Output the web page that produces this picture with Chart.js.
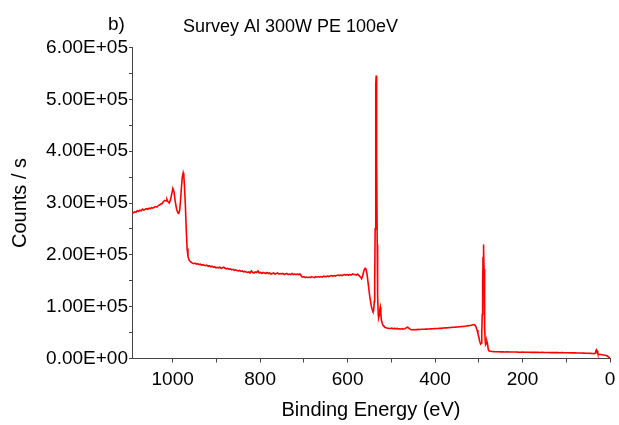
<!DOCTYPE html>
<html>
<head>
<meta charset="utf-8">
<script src="https://cdn.jsdelivr.net/npm/chart.js@4.4.1/dist/chart.umd.min.js"></script>
<style>
html,body{margin:0;padding:0;background:#fff;}
canvas{display:block;}
</style>
</head>
<body>
<canvas id="c" width="619" height="425"></canvas>
<script>
// Binding energy (eV) and intensity (thousand counts / s)
const bindingEnergy = [
1093,1090,1087,1084,1081,1078,1075,1072,1069,1066,1063,1060,1057,1054,1051,1048,1045,1042,1039,1036,
1033,1030,1027,1024,1021,1018,1015,1013,1011,1008,1005,1002,999.5,997,994,991,988,986,984,982,
980,978,976,974.5,973,971,969,967,965,963,961,958,955,952,949,946,943,940,937,934,
931,928,925,922,919,916,913,910,907,904,901,898,895,892,889,886,883,880,877,874,
871,868,865,862,859,856,853,850,847,844,841,838,835,832,829,826,823,820,817,814,
811,808,805,802,799,796,793,790,787,784,781,778,775,772,769,766,763,760,757,754,
751,748,745,742,739,736,733,730,727,724,721,718,715,712,709,707,705,703,700,697,
694,691,688,685,682,679,676,673,670,667,664,661,658,655,652,649,646,643,640,637,
634,631,628,625,622,619,616,613,610,607,604,601,598,595,592,589,586,583,580,577,
574,572,570,568,566,564,562,560,558,556,554,552,550,548,546,544,542,540.5,539,538,
537,536,535.2,534.6,534,533.2,532.3,531.3,530,529,527.5,526.3,525.3,524,523,521,519,517,514,511,508,505,
502,499,496,493,490,487,484,481,478,475,472,469,467,465,463,461,458,455,452,449,
446,443,440,437,434,431,428,425,422,419,416,413,410,407,404,401,398,395,392,389,
386,383,380,377,374,371,368,365,362,359,356,353,350,347,344,341,338,335,332,329,
326,323,320,317,314,312,310,308,306,304,302,300,298,296,294.5,293.2,292.2,291.2,290.3,289.4,288.7,288,
287.2,286.3,285.3,284.4,283,281.5,280,278.5,276.5,273,270,265,260,255,250,245,240,235,230,225,
220,215,210,205,200,195,190,185,180,175,170,165,160,155,150,145,140,135,130,125,
120,115,110,105,100,95,90,85,80,75,70,65,60,55,50,45,40,36,34,32.5,
31,29.5,28,26.5,24,21,18,15,12,9,6,3,0
];
const countsK = [
282,281,283,282,285,284,286,285,288,286,288,289,288,290,289,291,290,292,293,292,
295,296,298,299,303,305,304,307,303,300,306,318,328,322,302,288,281,280,286,305,
330,350,358,352,332,296,250,212,197,191,188,186,184,183,184,182,183,181,182,180,
181,180,179,180,178,179,177,178,176,177,175,176,175,176,174,175,176,174,173,174,
172,173,171,172,170,171,170,169,170,168,169,167,168,167,166,167,165,169,166,165,
167,166,169,165,166,164,166,165,164,166,164,165,163,164,165,163,164,165,163,164,
163,164,162,163,164,162,163,162,164,162,163,162,163,162,163,161,158,157,158,156,
157,156,157,156,158,157,156,158,157,158,157,158,157,159,158,158,159,158,159,160,
159,160,159,160,161,160,161,160,161,162,161,162,161,162,161,163,162,162,161,163,
160,158,157,154,158,165,171,174,172,165,152,138,124,112,102,95,91,92,110,150,
250,420,530,546,510,380,220,120,85,79,84,95,99,88,76,68,64,62,60,59,58.5,58,
58,58.5,57.5,58,57.5,58,57,57.5,57,57.5,57,57.5,58.5,60,60.5,59,57,55.5,55.5,55.8,
55.5,56,55.8,56.2,56,56.3,56.5,56.4,56.7,56.6,57,56.8,57.2,57.4,57.3,57.7,57.8,58,58.1,58.3,
58.2,58.6,58.8,59,59.1,59.4,59.6,59.8,60,60.2,60.4,60.6,60.8,61,61.3,61.5,61.8,62,62.3,62.6,
63,63.4,63.8,64.3,65,65.6,65.2,63.5,60,55,48,42,33,28,30,48,85,145,195,220,212,172,
112,60,33,27,29,33,28,18,14.5,14,13.5,13.2,13,12.9,12.8,12.9,12.6,12.7,12.5,12.6,
12.4,12.5,12.3,12.2,12.3,12.1,12,12.1,11.9,12,11.8,11.9,11.7,11.8,11.6,11.5,11.6,11.4,11.5,11.3,
11.4,11.2,11.3,11.1,11,11.1,10.9,10.8,10.9,10.7,10.6,10.5,10.4,10.2,10,9.8,9.6,9.4,10.5,14,
17,15,10,8,7.8,7.6,7.2,6.8,6.4,5.9,4.8,2.8,0.5
];
const xTickValues = [0, 100, 200, 300, 400, 500, 600, 700, 800, 900, 1000];
const xTickLabels = [0, 200, 400, 600, 800, 1000];
const yTickValues = [0, 50000, 100000, 150000, 200000, 250000, 300000, 350000, 400000, 450000, 500000, 550000, 600000];
const yTickLabels = [0, 100000, 200000, 300000, 400000, 500000, 600000];
const titleText = 'Survey Al 300W PE 100eV';
const panelText = 'b)';
const xTitle = 'Binding Energy (eV)';
const yTitle = 'Counts / s';

const points = bindingEnergy.map((e, i) => ({x: e, y: countsK[i] * 1000}));

function sci(v) {
  if (v === 0) return '0.00E+00';
  const e = Math.floor(Math.log10(Math.abs(v)) + 1e-9);
  const m = v / Math.pow(10, e);
  return m.toFixed(2) + 'E' + (e < 0 ? '-' : '+') + String(Math.abs(e)).padStart(2, '0');
}

const FONT = '"Liberation Sans", Arial, sans-serif';
const AXIS = '#444';

const titlePlugin = {
  id: 'titles',
  afterDraw(chart) {
    const ctx = chart.ctx;
    ctx.save();
    ctx.fillStyle = '#000';
    ctx.textBaseline = 'alphabetic';
    ctx.textAlign = 'left';
    ctx.font = '19px ' + FONT;
    ctx.fillText(panelText, 108, 30);
    ctx.font = '18px ' + FONT;
    ctx.fillText(titleText, 183, 32);
    ctx.restore();
  }
};

new Chart(document.getElementById('c'), {
  type: 'line',
  data: {
    datasets: [{
      data: points,
      borderColor: 'rgb(255,0,0)',
      borderWidth: 1.6,
      pointRadius: 0,
      tension: 0,
      fill: false
    }]
  },
  options: {
    responsive: false,
    animation: false,
    layout: {padding: {top: 47.5, right: 9, left: 0, bottom: 0}},
    plugins: {legend: {display: false}, tooltip: {enabled: false}},
    scales: {
      x: {
        type: 'linear',
        reverse: true,
        min: 0,
        max: 1093,
        afterBuildTicks(s) { s.ticks = xTickValues.map(v => ({value: v})); },
        afterFit(s) { s.height = 66.5; },
        border: {display: true, color: AXIS, width: 1},
        grid: {drawOnChartArea: false, drawTicks: true, tickLength: 4, color: AXIS},
        ticks: {
          autoSkip: false,
          maxRotation: 0,
          minRotation: 0,
          padding: 6,
          color: '#000',
          font: {family: FONT, size: 19},
          callback: v => xTickLabels.includes(Math.round(v)) ? String(Math.round(v)) : ''
        },
        title: {display: true, text: xTitle, color: '#000', font: {family: FONT, size: 20}, padding: {top: 0, bottom: 3}}
      },
      y: {
        type: 'linear',
        min: 0,
        max: 600000,
        afterBuildTicks(s) { s.ticks = yTickValues.map(v => ({value: v})); },
        afterFit(s) { s.width = 132; },
        border: {display: true, color: AXIS, width: 1},
        grid: {drawOnChartArea: false, drawTicks: true, tickLength: 3, color: AXIS},
        ticks: {
          autoSkip: false,
          padding: 1,
          color: '#000',
          font: {family: FONT, size: 19},
          callback: v => yTickLabels.includes(Math.round(v)) ? sci(Math.round(v)) : ''
        },
        title: {display: true, text: yTitle, color: '#000', font: {family: FONT, size: 20}, padding: {top: 8, bottom: 0}}
      }
    }
  },
  plugins: [titlePlugin]
});
</script>
</body>
</html>
